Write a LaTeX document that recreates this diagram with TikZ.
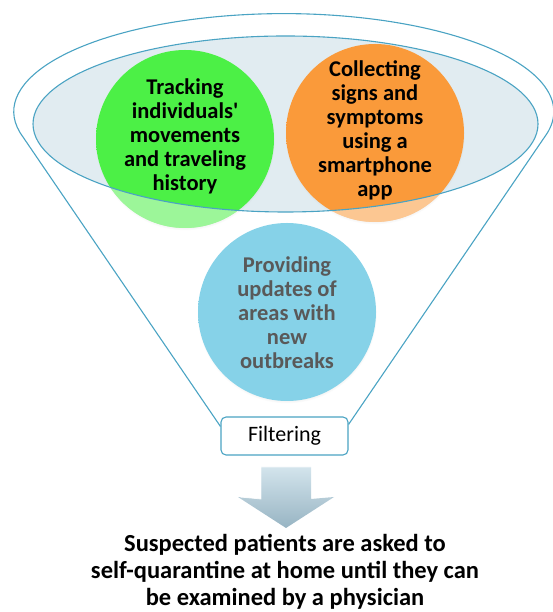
\documentclass[tikz,border=0pt]{standalone}
\usepackage{fontspec}
\setmainfont{Carlito}
\usetikzlibrary{calc,shadows}

\definecolor{funnelblue}{HTML}{4AA3C3}
\definecolor{funnelfill}{HTML}{E1ECF1}
\definecolor{greenA}{HTML}{4CF046}
\definecolor{greenB}{HTML}{27BE27}
\definecolor{orangeA}{HTML}{FA9A3A}
\definecolor{orangeB}{HTML}{DC6C18}
\definecolor{blueA}{HTML}{86D2E8}
\definecolor{blueB}{HTML}{5CB6D3}
\definecolor{bluetext}{HTML}{595959}
\definecolor{arrowtop}{HTML}{D3E4EC}
\definecolor{arrowbot}{HTML}{97B4C3}

% glossy balls: bright core slightly above centre, darker rim
\pgfdeclareradialshading{greenball}{\pgfpoint{0bp}{10bp}}{%
  color(0bp)=(greenA); color(30bp)=(greenA); color(60bp)=(greenB)}
\pgfdeclareradialshading{orangeball}{\pgfpoint{0bp}{10bp}}{%
  color(0bp)=(orangeA); color(30bp)=(orangeA); color(60bp)=(orangeB)}
\pgfdeclareradialshading{blueball}{\pgfpoint{0bp}{10bp}}{%
  color(0bp)=(blueA); color(30bp)=(blueA); color(60bp)=(blueB)}

% straight typewriter apostrophe
\newcommand{\apos}{{\addfontfeatures{Ligatures=TeXOff}'}}

\begin{document}
\begin{tikzpicture}[x=1pt,y=1pt,
  funnel/.style={draw=funnelblue, line width=1.1pt},
  bubble/.style={circle, minimum size=178pt, inner sep=0pt, draw=none,
    circular drop shadow={shadow xshift=0pt, shadow yshift=-1.5pt, shadow scale=1.01, opacity=0.35}},
  bubbletext/.style={align=center, inner sep=0pt,
    font=\bfseries\fontsize{22.5}{24}\selectfont},
  filterbox/.style={draw=funnelblue, line width=1.1pt, fill=white,
    rounded corners=5pt, minimum width=127pt, minimum height=38pt,
    inner sep=0pt, font=\fontsize{22}{26}\selectfont},
  fade/.style={fill=white, opacity=0.45, even odd rule},
  resulttext/.style={align=center, inner sep=0pt,
    font=\bfseries\fontsize{24.5}{27}\selectfont}
]
\useasboundingbox (0,0) rectangle (552,612);

% bottom neck of the funnel
\node[filterbox] (filt) at (284.5,176) {Filtering};

% funnel outline: upper rim arc and the two sides
\coordinate (neckL) at ([yshift=-10pt]filt.north west);
\coordinate (neckR) at ([yshift=-8pt]filt.north east);
\coordinate (rimL) at (23,475);
\draw[funnel] (neckL) -- (rimL)
  arc[start angle=195, end angle=-15, x radius=270, y radius=98] -- (neckR);

% inner opening of the funnel
\coordinate (mouth) at (285.5,488);
\fill[funnelfill] (mouth) ellipse [x radius=252.5, y radius=88];

% the three inputs
\node[bubble, shading=greenball] (track) at (185,473) {};
\node[bubble, shading=orangeball] (collect) at (375,479) {};
\node[bubble, shading=blueball] (update) at (287,300) {};

% lower parts of the balls hanging below the opening look washed out
\begin{scope}
  \clip (track.center) circle (89);
  \fill[fade] (0,0) rectangle (552,612) (mouth) ellipse [x radius=252.5, y radius=88];
\end{scope}
\begin{scope}
  \clip (collect.center) circle (89);
  \fill[fade] (0,0) rectangle (552,612) (mouth) ellipse [x radius=252.5, y radius=88];
\end{scope}

\draw[funnel] (mouth) ellipse [x radius=252.5, y radius=88];

\node[bubbletext] (tracktxt) at ([yshift=3pt]track.center)
  {Tracking\\individuals\apos\\movements\\and traveling\\history};
\node[bubbletext] (collecttxt) at ([yshift=3pt]collect.center)
  {Collecting\\signs and\\symptoms\\using a\\smartphone\\app};
\node[bubbletext, text=bluetext] (updatetxt) at ([yshift=-1pt]update.center)
  {Providing\\updates of\\areas with\\new\\outbreaks};

% downward block arrow
\coordinate (arrowtip) at (286,84);
\shade[top color=arrowtop, bottom color=arrowbot]
  (261,145) -- (311,145) -- (311,113) -- (334,115) -- (arrowtip)
  -- (238,115) -- (261,113) -- cycle;
\draw[white, opacity=0.8, line width=0.8pt, line join=round]
  (240,115) -- (261,113) -- (261,145) -- (311,145);

% outcome
\node[resulttext] (result) at (285,40)
  {Suspected patients are asked to\\self-quarantine at home until they can\\be examined by a physician};
\end{tikzpicture}
\end{document}
